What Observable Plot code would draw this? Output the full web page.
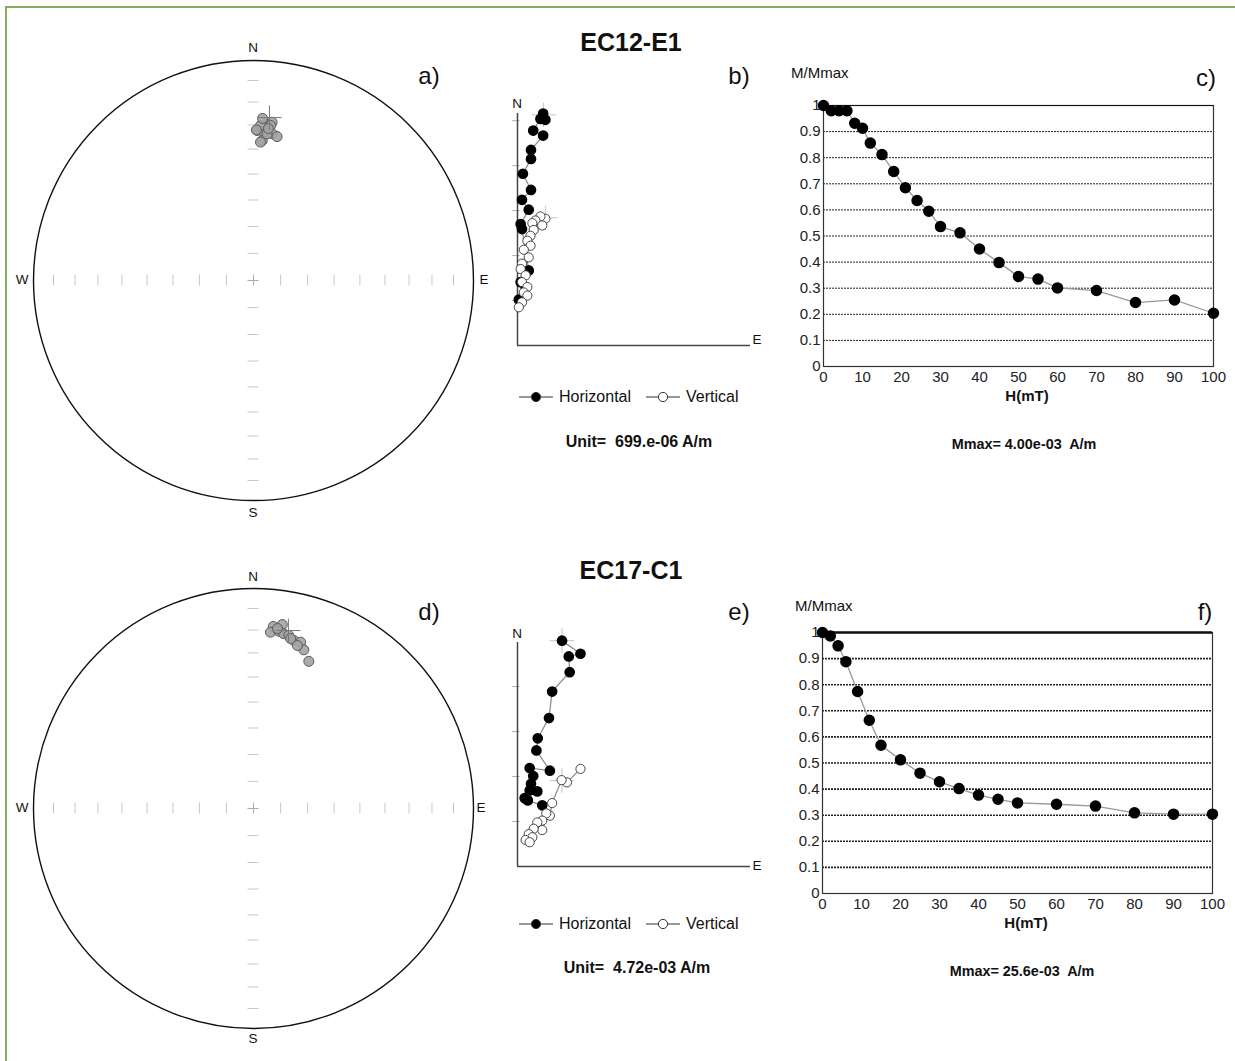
<!DOCTYPE html>
<html><head><meta charset="utf-8">
<script src="https://cdn.jsdelivr.net/npm/d3@7"></script>
<script src="https://cdn.jsdelivr.net/npm/@observablehq/plot@0.6"></script>
<style>
body{margin:0;background:#fff;font-family:"Liberation Sans",Arial,sans-serif;}
#page{position:relative;width:1235px;height:1061px;overflow:hidden;background:#fff;}
#frame{position:absolute;left:5px;top:6px;width:1260px;height:1100px;border:2px solid #86ad5c;box-sizing:border-box;}
.lbl{position:absolute;white-space:pre;color:#111;line-height:1;transform:translate(-50%,-50%);}
.lft{position:absolute;white-space:pre;color:#111;line-height:1;transform:translate(0,-50%);}
.layer{position:absolute;}
</style></head><body><div id="page"><div id="frame"></div></div>
<script>
// ---------- DATA ----------
// Stereonet a) EC12-E1 : declination / inclination (deg)
const stereoA_dec = [4.4, 6.7, 1.4, 4.0, 6.3, 2.6, 7.3, 9.3, 3.6, 2.9, 1.1, 5.3, 5.6, 3.2];
const stereoA_inc = [29.3, 28.4, 32.3, 32.9, 29.8, 30.2, 33.2, 34.1, 36.4, 37.1, 32.1, 33.5, 31.2, 27.1];
const stereoA_mean = [5.6, 26.5];
// Stereonet d) EC17-C1
const stereoD_dec = [6.2, 8.9, 5.5, 8.1, 9.8, 11.5, 13.5, 15.8, 17.6, 20.6, 7.6, 12.3, 15.1];
const stereoD_inc = [17.9, 16.5, 20.6, 19.7, 20.5, 20.8, 22.5, 22.5, 25.3, 29.3, 18.6, 22.0, 24.3];
const stereoD_mean = [11.1, 18.7];

// Zijderveld b) (in units of "Unit")
const zijB_hE = [0.57, 0.62, 0.51, 0.35, 0.57, 0.30, 0.30, 0.12, 0.30, 0.10, 0.25, 0.07, 0.10, 0.25, 0.07, 0.18, 0.03];
const zijB_hN = [5.16, 5.02, 5.04, 4.78, 4.67, 4.35, 4.15, 3.82, 3.46, 3.24, 3.02, 2.70, 2.59, 1.67, 1.41, 1.30, 1.02];
const zijB_vE = [0.62, 0.51, 0.40, 0.55, 0.33, 0.36, 0.29, 0.22, 0.29, 0.14, 0.25, 0.10, 0.07, 0.18, 0.10, 0.22, 0.14, 0.22, 0.10, 0.03];
const zijB_vU = [2.82, 2.87, 2.78, 2.67, 2.72, 2.57, 2.44, 2.33, 2.22, 2.13, 1.96, 1.82, 1.70, 1.56, 1.41, 1.30, 1.18, 1.11, 0.96, 0.85];
const zijB_cross = [[0.58, 5.13], [0.62, 2.84]];
// Zijderveld e)
const zijE_hE = [0.99, 1.40, 1.14, 1.16, 0.77, 0.70, 0.45, 0.42, 0.72, 0.27, 0.35, 0.30, 0.44, 0.27, 0.16, 0.23, 0.55];
const zijE_hN = [5.02, 4.73, 4.67, 4.32, 3.89, 3.30, 2.85, 2.58, 2.13, 2.19, 2.01, 1.84, 1.67, 1.69, 1.52, 1.47, 1.36];
const zijE_vE = [1.40, 1.10, 0.98, 0.77, 0.72, 0.64, 0.55, 0.44, 0.55, 0.36, 0.25, 0.33, 0.18, 0.27];
const zijE_vU = [2.17, 1.87, 1.92, 1.41, 1.13, 1.18, 1.02, 0.98, 0.81, 0.84, 0.72, 0.65, 0.59, 0.54];
const zijE_cross = [[0.99, 5.02], [0.99, 1.91]];

// AF demagnetization curves
const fieldsC = [0, 2, 4, 6, 8, 10, 12, 15, 18, 21, 24, 27, 30, 35, 40, 45, 50, 55, 60, 70, 80, 90, 100];
const magC = [1.0, 0.98, 0.98, 0.98, 0.932, 0.913, 0.856, 0.812, 0.747, 0.685, 0.636, 0.595, 0.536, 0.512, 0.450, 0.398, 0.345, 0.335, 0.301, 0.291, 0.245, 0.255, 0.204];
const fieldsF = [0, 2, 4, 6, 9, 12, 15, 20, 25, 30, 35, 40, 45, 50, 60, 70, 80, 90, 100];
const magF = [1.0, 0.987, 0.949, 0.888, 0.774, 0.664, 0.568, 0.512, 0.461, 0.428, 0.402, 0.377, 0.361, 0.347, 0.342, 0.335, 0.309, 0.304, 0.304];

const xTicks = [0, 10, 20, 30, 40, 50, 60, 70, 80, 90, 100];
const yTicks = [0, 0.1, 0.2, 0.3, 0.4, 0.5, 0.6, 0.7, 0.8, 0.9, 1];
const netTickAngles = [10, 20, 30, 40, 50, 60, 70, 80];
const zijTicks = [1, 2, 3, 4, 5];

// ---------- HELPERS ----------
const page = document.getElementById("page");
const FONT = '"Liberation Sans", Arial, sans-serif';
function place(el, left, top) {
  const d = document.createElement("div");
  d.className = "layer"; d.style.left = left + "px"; d.style.top = top + "px";
  d.appendChild(el); page.appendChild(d);
}
function label(text, x, y, css, cls) {
  const d = document.createElement("div");
  d.className = cls || "lbl"; d.textContent = text;
  d.style.left = x + "px"; d.style.top = y + "px";
  Object.assign(d.style, css || {});
  page.appendChild(d);
  return d;
}
const rad = Math.PI / 180;
const eqArea = (dec, inc) => {
  const r = Math.SQRT2 * Math.sin((90 - Math.abs(inc)) / 2 * rad);
  return {x: r * Math.sin(dec * rad), y: r * Math.cos(dec * rad)};
};
const netTicks = netTickAngles.flatMap(a => { const r = Math.SQRT2 * Math.sin(a / 2 * rad); return [r, -r]; });

function stereonet(decs, incs, mean) {
  const pts = decs.map((d, i) => eqArea(d, incs[i]));
  const m = [eqArea(mean[0], mean[1])];
  const t = 0.025, arm = 0.055;
  return Plot.plot({
    width: 480, height: 480, margin: 20,
    style: {background: "transparent"},
    x: {domain: [-1, 1], axis: null}, y: {domain: [-1, 1], axis: null},
    marks: [
      Plot.ruleX(netTicks, {x: d => d, y1: -t, y2: t, stroke: "#c8c8c8"}),
      Plot.ruleY(netTicks, {y: d => d, x1: -t, x2: t, stroke: "#c8c8c8"}),
      Plot.ruleX([0], {x: d => d, y1: -t, y2: t, stroke: "#aaa"}),
      Plot.ruleY([0], {y: d => d, x1: -t, x2: t, stroke: "#aaa"}),
      Plot.dot([{x: 0, y: 0}], {x: "x", y: "y", r: 220, fill: "none", stroke: "#111", strokeWidth: 1.4}),
      Plot.dot(pts, {x: "x", y: "y", r: 5, fill: "#a3a3a3", fillOpacity: 0.9, stroke: "#5a5a5a", strokeWidth: 1}),
      Plot.link(m, {x1: d => d.x - arm, x2: d => d.x + arm, y1: "y", y2: "y", stroke: "#777"}),
      Plot.link(m, {x1: "x", x2: "x", y1: d => d.y - arm, y2: d => d.y + arm, stroke: "#777"})
    ]
  });
}

function zij(hE, hN, vE, vU, crosses, xmax, ymax, mt, mb, height) {
  const H = hE.map((e, i) => ({e, n: hN[i]}));
  const V = vE.map((e, i) => ({e, n: vU[i]}));
  const C = crosses.map(([e, n]) => ({e, n}));
  const arm = 0.27;
  return Plot.plot({
    width: 270, height, marginLeft: 17, marginRight: 20, marginTop: mt, marginBottom: mb,
    style: {background: "transparent"},
    x: {domain: [0, xmax], axis: null}, y: {domain: [0, ymax], axis: null},
    marks: [
      Plot.ruleY(zijTicks.filter(v => v < ymax), {y: d => d, x1: -0.11, x2: 0.06, stroke: "#b0b0b0"}),
      Plot.link(C, {x1: d => d.e - arm, x2: d => d.e + arm, y1: "n", y2: "n", stroke: "#c4c4c4"}),
      Plot.link(C, {x1: "e", x2: "e", y1: d => d.n - arm, y2: d => d.n + arm, stroke: "#c4c4c4"}),
      Plot.ruleX([0], {x: d => d, stroke: "#444", strokeWidth: 1.5}),
      Plot.ruleY([0], {y: d => d, stroke: "#444", strokeWidth: 1.5}),
      Plot.line(H, {x: "e", y: "n", stroke: "#888", strokeWidth: 1.2}),
      Plot.line(V, {x: "e", y: "n", stroke: "#888", strokeWidth: 1.2}),
      Plot.dot(H, {x: "e", y: "n", r: 4.6, fill: "#000", stroke: "#000"}),
      Plot.dot(V, {x: "e", y: "n", r: 4.6, fill: "#fff", stroke: "#333", strokeWidth: 0.9})
    ]
  });
}

function demag(fields, mags, gridW, topW) {
  const D = fields.map((h, i) => ({h, m: mags[i]}));
  return Plot.plot({
    width: 450, height: 360, marginLeft: 43, marginRight: 17, marginTop: 45, marginBottom: 54,
    style: {background: "transparent", fontSize: "15px", fontFamily: FONT, color: "#222"},
    x: {domain: [0, 100], ticks: xTicks, tickSize: 0, tickPadding: 5, label: null, tickFormat: d => String(d)},
    y: {domain: [0, 1], ticks: yTicks, tickSize: 0, tickPadding: 3, label: null,
        tickFormat: d => (d === 0 || d === 1) ? String(d) : d.toFixed(1)},
    marks: [
      Plot.ruleY(yTicks.filter(v => v > 0 && v < 1), {y: d => d, stroke: "#222", strokeWidth: gridW, strokeDasharray: "2,1"}),
      Plot.frame({stroke: "#333", strokeWidth: 1.2}),
      Plot.ruleY([1], {y: d => d, stroke: "#111", strokeWidth: topW}),
      Plot.line(D, {x: "h", y: "m", stroke: "#999", strokeWidth: 1.3}),
      Plot.dot(D, {x: "h", y: "m", r: 5, fill: "#000", stroke: "#000"})
    ]
  });
}

// ---------- DRAW ----------
place(stereonet(stereoA_dec, stereoA_inc, stereoA_mean), 13, 40);
place(stereonet(stereoD_dec, stereoD_inc, stereoD_mean), 13, 568);
place(zij(zijB_hE, zijB_hN, zijB_vE, zijB_vU, zijB_cross, 5.18, 5.16, 23, 15, 270), 500, 90);
place(zij(zijE_hE, zijE_hN, zijE_vE, zijE_vU, zijE_cross, 5.18, 4.98, 22, 14, 260), 500, 620);
place(demag(fieldsC, magC, 1, 1.2), 780, 60);
place(demag(fieldsF, magF, 1.6, 2.4), 779, 587);

// ---------- TEXT ----------
const panelCss = {fontSize: "24px"};
label("EC12-E1", 631, 42, {fontSize: "25px", fontWeight: "bold"});
label("EC17-C1", 631, 570, {fontSize: "25px", fontWeight: "bold"});
[["a)", 429, 76], ["b)", 739, 76], ["c)", 1206, 78], ["d)", 429, 612], ["e)", 739, 612], ["f)", 1205, 612]]
  .forEach(([t, x, y]) => label(t, x, y, panelCss));
const compCss = {fontSize: "13.5px"};
[["N", 253, 48], ["S", 253, 513], ["W", 22, 280], ["E", 484, 280],
 ["N", 253, 577], ["S", 253, 1039], ["W", 22, 808], ["E", 481, 808],
 ["N", 517, 104], ["E", 757, 340], ["N", 517, 634], ["E", 757, 866]]
  .forEach(([t, x, y]) => label(t, x, y, compCss));
label("M/Mmax", 791, 72, {fontSize: "15px"}, "lft");
label("M/Mmax", 795, 605, {fontSize: "15px"}, "lft");
label("H(mT)", 1027, 395, {fontSize: "15px", fontWeight: "bold"});
label("H(mT)", 1026, 922, {fontSize: "15px", fontWeight: "bold"});
label("Mmax= 4.00e-03  A/m", 1024, 444, {fontSize: "14.4px", fontWeight: "bold"});
label("Mmax= 25.6e-03  A/m", 1022, 971, {fontSize: "14.4px", fontWeight: "bold"});
label("Unit=  699.e-06 A/m", 639, 442, {fontSize: "16px", fontWeight: "bold"});
label("Unit=  4.72e-03 A/m", 637, 968, {fontSize: "16px", fontWeight: "bold"});

function legend(x, y) {
  const d = document.createElement("div");
  d.className = "lft"; d.style.left = x + "px"; d.style.top = y + "px";
  d.style.fontSize = "16px"; d.style.display = "flex"; d.style.alignItems = "center";
  const sym = fill => `<svg width="34" height="12" style="margin-right:6px"><line x1="0" y1="6" x2="34" y2="6" stroke="#333" stroke-width="1"/><circle cx="17" cy="6" r="4.6" fill="${fill}" stroke="#333" stroke-width="1"/></svg>`;
  d.innerHTML = sym("#000") + '<span>Horizontal</span><span style="display:inline-block;width:15px"></span>' + sym("#fff") + '<span>Vertical</span>';
  page.appendChild(d);
}
legend(519, 397);
legend(519, 924);
</script></body></html>
